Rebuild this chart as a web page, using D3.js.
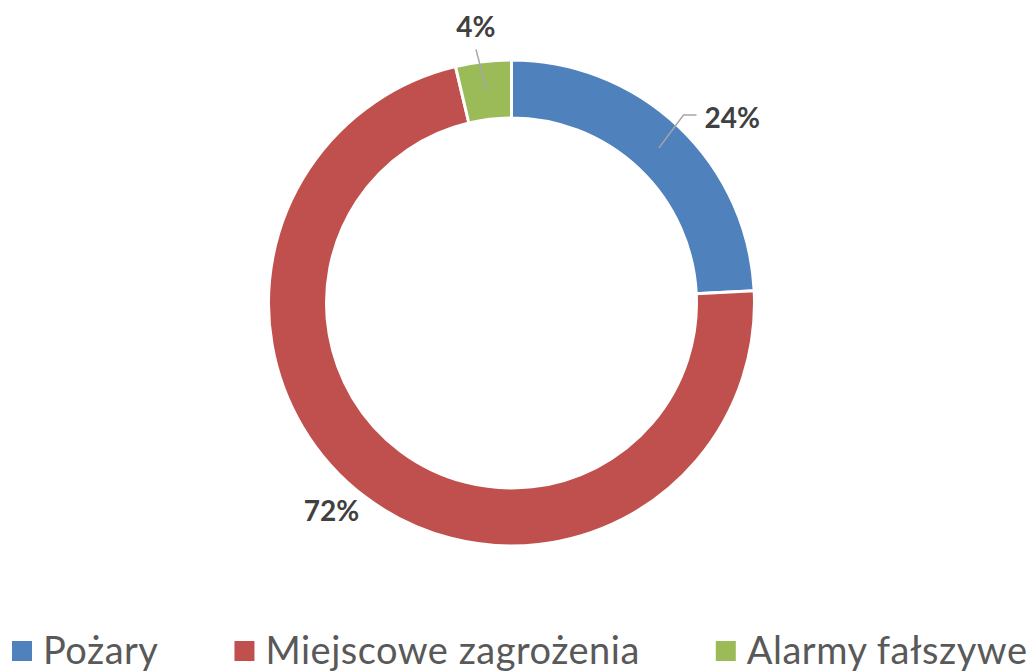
<!DOCTYPE html>
<html>
<head>
<meta charset="utf-8">
<script src="https://cdn.jsdelivr.net/npm/d3@7"></script>
<style>
    body { margin: 0; background: #fff; }
    svg { display: block; }
</style>
</head>
<body>
<div id="chart"></div>
<script>
// data
const categories = ["Pożary", "Miejscowe zagrożenia", "Alarmy fałszywe"];
const values = [24.2, 72.1, 3.7];
const colors = ["#4F81BD", "#C0504D", "#9BBB59"];

const width = 1033, height = 671;
const cx = 511.5, cy = 303;
const outerR = 243, innerR = 185;

const svg = d3.select("#chart")
    .append("svg")
    .attr("width", width)
    .attr("height", height);

const total = d3.sum(values);
const pctFormat = d3.format(".0%");

const pie = d3.pie().sort(null).value(d => d.value);
const arcs = pie(categories.map((c, i) => ({name: c, value: values[i], color: colors[i]})));

const arc = d3.arc().innerRadius(innerR).outerRadius(outerR);
const midArc = d3.arc().innerRadius((innerR + outerR) / 2).outerRadius((innerR + outerR) / 2);

const chart = svg.append("g")
    .attr("transform", `translate(${cx},${cy})`);

chart.selectAll(".slice")
    .data(arcs)
    .enter()
    .append("path")
    .attr("class", "slice")
    .attr("d", arc)
    .attr("fill", d => d.data.color)
    .attr("stroke", "#fff")
    .attr("stroke-width", 3);

// label placement (Excel puts them just outside the ring)
const labelR = [288, 275, 278];
const labelNudge = [0.113, 0.07, -0.012];   // radians, per slice
const leader = [true, false, true];

function polar(r, a) {
    return [r * Math.sin(a), -r * Math.cos(a)];
}

arcs.forEach((d, i) => {
    const mid = (d.startAngle + d.endAngle) / 2;
    const a = mid + labelNudge[i];
    const [lx, ly] = polar(labelR[i], a);
    const txt = chart.append("text")
        .attr("x", lx)
        .attr("y", ly)
        .attr("dy", "0.36em")
        .attr("text-anchor", "middle")
        .attr("font-family", "Lato, 'Open Sans', sans-serif")
        .attr("font-weight", "bold")
        .attr("font-size", 28)
        .attr("fill", "#404040")
        .text(pctFormat(d.value / total));

    if (leader[i]) {
        const start = midArc.centroid(d);
        const bb = txt.node().getBBox();
        let pts;
        if (ly - bb.height / 2 < start[1] && Math.abs(lx - start[0]) > bb.width / 2) {
            // text to the side: bend then horizontal into the label
            const ex = lx - bb.width / 2 - 8;
            const ey = ly - 3;
            pts = [start, [ex - 13, ey], [ex, ey]];
        } else {
            pts = [start, [lx, bb.y + bb.height + 6]];
        }
        chart.append("path")
            .attr("d", d3.line()(pts))
            .attr("fill", "none")
            .attr("stroke", "#A6A6A6")
            .attr("stroke-width", 1.5);
    }
});

// legend
const legend = svg.append("g").attr("class", "legend");
let x = 12;
const legendY = 650;
categories.forEach((c, i) => {
    legend.append("rect")
        .attr("x", x)
        .attr("y", legendY - 9)
        .attr("width", 20)
        .attr("height", 20)
        .attr("fill", colors[i]);
    const t = legend.append("text")
        .attr("x", x + 31)
        .attr("y", legendY)
        .attr("dy", "0.36em")
        .attr("font-family", "Lato, 'Open Sans', sans-serif")
        .attr("font-size", 38)
        .attr("letter-spacing", 0.5)
        .attr("fill", "#595959")
        .text(c);
    x = x + 31 + t.node().getComputedTextLength() + 76;
});
</script>
</body>
</html>
